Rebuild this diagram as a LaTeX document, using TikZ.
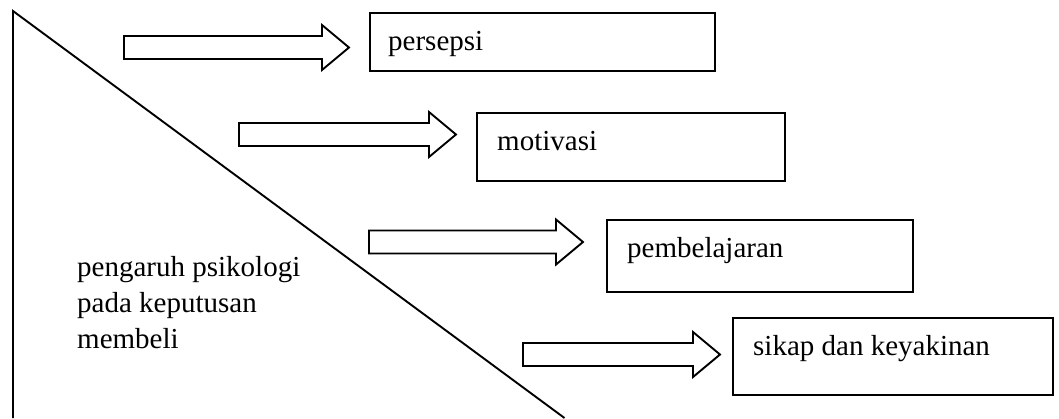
\documentclass[tikz,border=0pt]{standalone}
\usepackage{fontspec}
\setmainfont{Liberation Serif}
\newcommand{\blockarr}[4]{%
  \draw[blockarrow] ({#2},{#4-11.5}) -- ({#3-27},{#4-11.5}) -- ({#3-27},{#4-22.5})
    -- ({#3},{#4}) coordinate (#1) -- ({#3-27},{#4+22.5}) -- ({#3-27},{#4+11.5})
    -- ({#2},{#4+11.5}) -- cycle;}
\begin{document}
\begin{tikzpicture}[x=1pt,y=-1pt,
  line join=miter,
  blockarrow/.style={draw=black, line width=1.9pt, fill=white},
  box/.style={draw=black, line width=1.9pt, anchor=north west, inner sep=0pt},
  lbl/.style={font=\fontsize{29}{36}\selectfont, anchor=base west, inner sep=0pt},
  tri/.style={draw=black, line width=1.9pt}]
\useasboundingbox (0,0) rectangle (1059,418);
\fill[white] (0,0) rectangle (1059,418);
% triangle
\coordinate (tbl) at (13,418);
\coordinate (tap) at (13,11);
\coordinate (tbr) at (564.5,418);
\draw[tri] (tbl) -- (tap) -- (tbr);
\node[lbl, align=left] (main) at (77,348) {pengaruh psikologi\\pada keputusan\\membeli};
% boxes
\node[box, minimum width=345pt, minimum height=58pt] (b1) at (369,12) {};
\node[box, minimum width=308pt, minimum height=68pt] (b2) at (476,112) {};
\node[box, minimum width=306pt, minimum height=72pt] (b3) at (606,219) {};
\node[box, minimum width=320pt, minimum height=77pt] (b4) at (732,317) {};
\node[lbl] (t1) at (388,50) {persepsi};
\node[lbl] (t2) at (497,150) {motivasi};
\node[lbl] (t3) at (627,257) {pembelajaran};
\node[lbl] (t4) at (753,355) {sikap dan keyakinan};
% block arrows
\blockarr{a1}{124}{349}{47.5}
\blockarr{a2}{239}{456}{134.5}
\blockarr{a3}{369}{583}{242}
\blockarr{a4}{523}{720}{354.5}
\end{tikzpicture}
\end{document}
